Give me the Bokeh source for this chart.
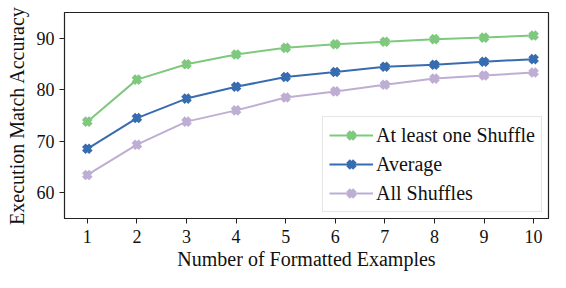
from bokeh.plotting import figure
from bokeh.models import Range1d, Legend, LegendItem, FixedTicker
from bokeh.embed import file_html
from bokeh.resources import INLINE

shots = [1, 2, 3, 4, 5, 6, 7, 8, 9, 10]
at_least_one = [73.8, 82.0, 85.0, 86.9, 88.2, 88.9, 89.4, 89.9, 90.2, 90.6]
average = [68.5, 74.5, 78.3, 80.6, 82.5, 83.5, 84.5, 84.9, 85.5, 86.0]
all_shuffles = [63.4, 69.3, 73.8, 76.0, 78.5, 79.7, 81.0, 82.2, 82.8, 83.4]
series_names = ["At least one Shuffle", "Average", "All Shuffles"]
colors = ["#7fc97f", "#386cb0", "#beaed4"]
y_ticks = [60, 70, 80, 90]

FONT = "Liberation Serif"

p = figure(width=550, height=272, output_backend="svg", toolbar_location=None,
           x_range=Range1d(0.54, 10.3), y_range=Range1d(54.9, 95.1),
           min_border_left=64, min_border_right=2, min_border_top=12, min_border_bottom=10)

items = []
for name, ys, c in zip(series_names, [at_least_one, average, all_shuffles], colors):
    l = p.line(shots, ys, line_color=c, line_width=2)
    s = p.scatter(shots, ys, marker="x", size=10, line_color=c, line_width=5)
    items.append(LegendItem(label=name, renderers=[l, s]))

legend = Legend(items=items, location="bottom_right",
                label_text_font=FONT, label_text_font_size="20px",
                label_text_color="#111111", label_height=24, glyph_height=24,
                border_line_color="#cccccc", border_line_width=1,
                background_fill_alpha=0.85,
                glyph_width=44, label_standoff=3, spacing=5, padding=6,
                margin=6)
p.add_layout(legend)

p.xgrid.visible = False
p.ygrid.visible = False
p.outline_line_color = "#222222"
p.outline_line_width = 1.2

p.xaxis.ticker = FixedTicker(ticks=shots)
p.yaxis.ticker = FixedTicker(ticks=y_ticks)
for ax in (p.xaxis[0], p.yaxis[0]):
    ax.minor_tick_line_color = None
    ax.major_tick_in = 0
    ax.major_tick_out = 5
    ax.axis_line_color = "#222222"
    ax.major_tick_line_color = "#222222"
    ax.major_label_text_font = FONT
    ax.major_label_text_font_size = "18px"
    ax.major_label_text_color = "#111111"
    ax.axis_label_text_font = FONT
    ax.axis_label_text_font_size = "20px"
    ax.axis_label_text_font_style = "normal"
    ax.axis_label_text_color = "#111111"

p.xaxis.axis_label = "Number of Formatted Examples"
p.yaxis.axis_label = "Execution Match Accuracy"
p.xaxis.axis_label_standoff = 2
p.yaxis.axis_label_standoff = 6
p.xaxis.major_label_standoff = 6
p.yaxis.major_label_standoff = 5

open("out.html", "w").write(file_html(p, INLINE))
